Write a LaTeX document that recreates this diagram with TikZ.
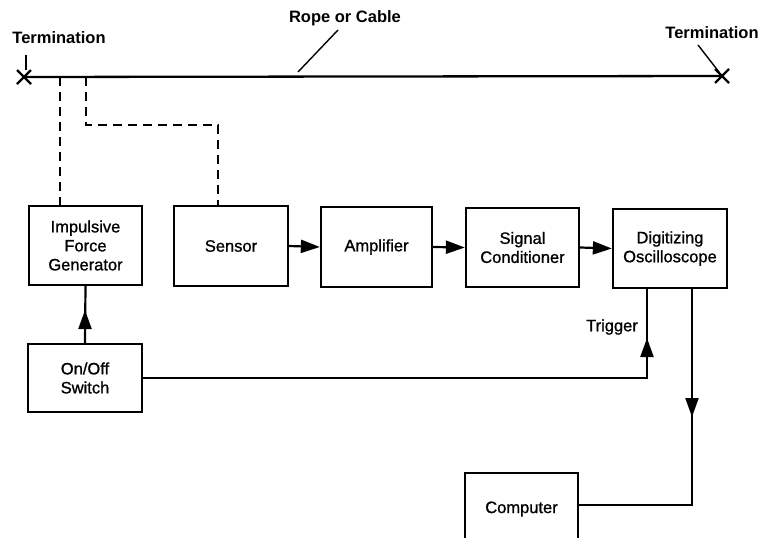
\documentclass[tikz,border=0pt]{standalone}
\usepackage{fontspec}
\setmainfont{Liberation Sans}
\usetikzlibrary{arrows.meta,calc}
\begin{document}
\begin{tikzpicture}[x=1pt,y=-1pt,
  box/.style={draw,line width=2.3pt,align=center,font=\fontsize{16.5}{19}\selectfont\addfontfeature{FakeBold=1},inner sep=0pt},
  lbl/.style={font=\bfseries\fontsize{16.5}{19}\selectfont,inner sep=0pt},
  conn/.style={line width=2.2pt},
  tip/.style={-{Triangle[length=19pt,width=13pt]},line width=2.2pt},
  dashlink/.style={line width=1.9pt,dash pattern=on 9pt off 6pt},
  lead/.style={line width=1.4pt}]
\clip (0,0) rectangle (764,538);
% rope
\coordinate (tl) at (24,77);
\coordinate (tr) at (722,76);
\draw[line width=2.3pt] (tl) -- (tr);
\draw[line width=2.2pt] ($(tl)+(-7,-7)$) -- ($(tl)+(7,7)$) ($(tl)+(-7,7)$) -- ($(tl)+(7,-7)$);
\draw[line width=2.2pt] ($(tr)+(-7,-7)$) -- ($(tr)+(7,7)$) ($(tr)+(-7,7)$) -- ($(tr)+(7,-7)$);
% labels
\node[lbl] (terml) at (59,38) {Termination};
\node[lbl] (termr) at (712,33) {Termination};
\node[lbl] (rope) at (345,18) {Rope or Cable};
\coordinate (tlA) at (26,55); \coordinate (tlB) at (26,70);
\draw[lead] (tlA) -- (tlB);
\coordinate (rA) at (338,30); \coordinate (rB) at (298,72);
\draw[lead] (rA) -- (rB);
\coordinate (trA) at (698,45); \coordinate (trB) at (719,72);
\draw[lead] (trA) -- (trB);
% boxes
\node[box,minimum width=113,minimum height=79] (ifg) at (85.5,245.5) {Impulsive\\Force\\Generator};
\node[box,minimum width=114,minimum height=80] (sen) at (231,246) {Sensor};
\node[box,minimum width=111,minimum height=80] (amp) at (376.5,247) {Amplifier};
\node[box,minimum width=113,minimum height=79] (sc) at (522.5,247.5) {Signal\\Conditioner};
\node[box,minimum width=114,minimum height=79] (dos) at (670,248.5) {Digitizing\\Oscilloscope};
\node[box,minimum width=114,minimum height=68] (sw) at (85,378) {On/Off\\Switch};
\node[box,minimum width=113,minimum height=72] (comp) at (521.5,509) {Computer};
% dashed links
\coordinate (d1) at (60,77);
\draw[dashlink] (d1) -- (d1 |- ifg.north);
\coordinate (d2) at (86,77);
\coordinate (d2b) at (86,125);
\coordinate (d2c) at (218,125);
\draw[dashlink] (d2) -- (d2b) -- (d2c) -- (d2c |- sen.north);
% signal chain
\draw[tip] (sen.east) -- (amp.west);
\draw[tip] (amp.east) -- (sc.west);
\draw[tip] (sc.east) -- (dos.west);
% switch to generator
\draw[conn] (sw.north) -- (ifg.south);
\coordinate (a1) at (85,310);
\draw[tip] (sw.north) -- (a1);
% trigger
\coordinate (tc) at (647,378);
\coordinate (tt) at (647,338);
\draw[conn] (sw.east) -- (tc) -- (tc |- dos.south);
\draw[tip] (tc) -- (tt);
\node[font=\fontsize{16.5}{19}\selectfont\addfontfeature{FakeBold=1},inner sep=0pt] (trig) at (612,327) {Trigger};
% oscilloscope to computer
\coordinate (oc) at (692,288);
\coordinate (oc1) at (692,505);
\coordinate (oc2) at (692,417);
\draw[conn] (oc |- dos.south) -- (oc1) -- (comp.east |- oc1);
\draw[tip] (oc |- dos.south) -- (oc2);
\end{tikzpicture}
\end{document}
